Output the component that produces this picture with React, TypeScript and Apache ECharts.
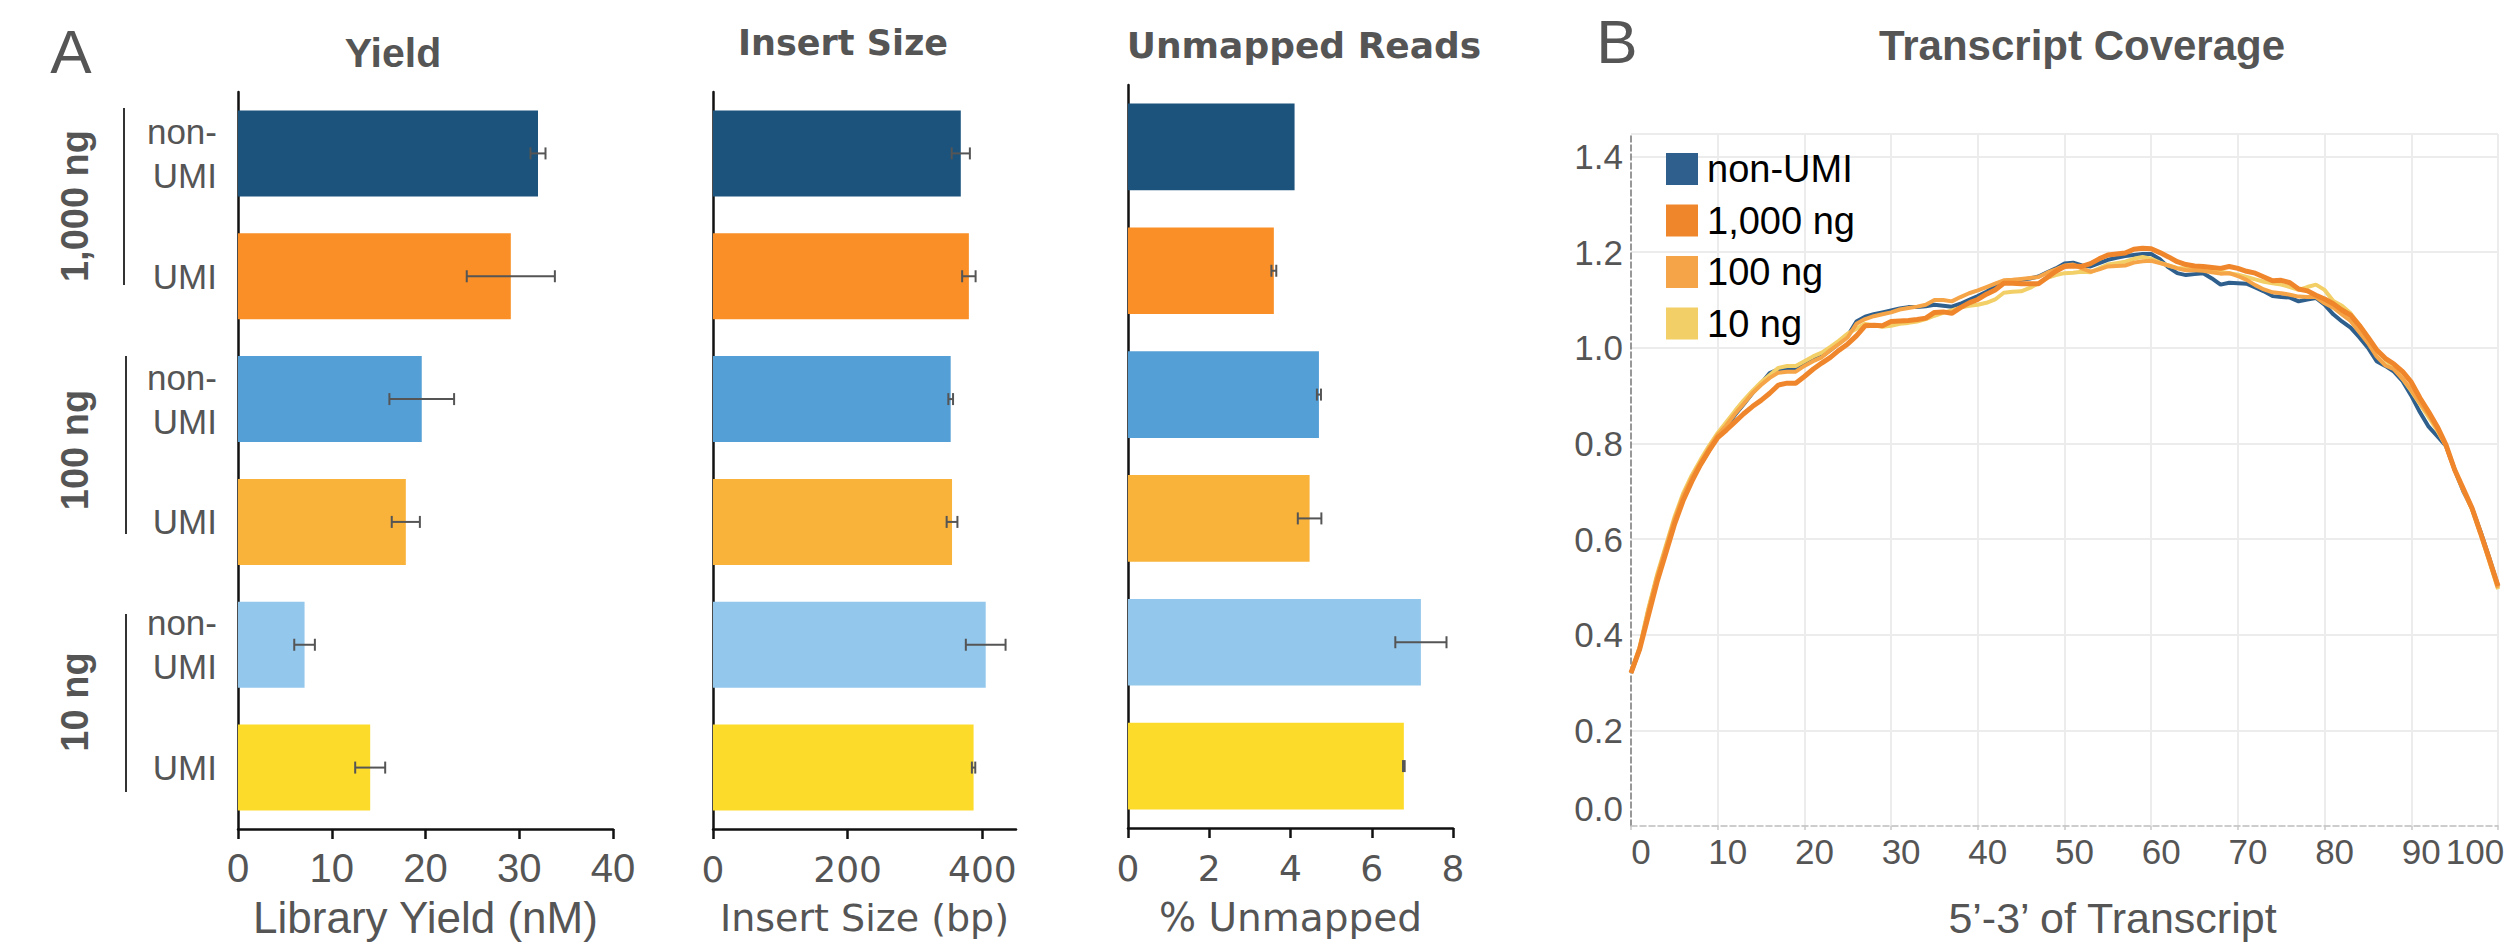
import React, { useEffect, useRef } from 'react';
import * as echarts from 'echarts';

// ---------- Panel A data ----------
const GROUPS = ['1,000 ng', '100 ng', '10 ng'];
const SAMPLE_IDS = ['1000-nonUMI', '1000-UMI', '100-nonUMI', '100-UMI', '10-nonUMI', '10-UMI'];
const SAMPLE_LABELS = ['non-\nUMI', 'UMI', 'non-\nUMI', 'UMI', 'non-\nUMI', 'UMI'];
const BAR_COLORS = ['#1B537D', '#F98F26', '#559FD7', '#F9B23A', '#93C7EC', '#FDDB2B'];

const YIELD = [32.0, 29.1, 19.6, 17.9, 7.1, 14.1];
const YIELD_ERR = [0.8, 4.7, 3.45, 1.5, 1.1, 1.6];
const INSERT = [368, 380, 353, 355, 405, 387];
const INSERT_ERR = [13.5, 10, 3.5, 8, 29.5, 2.5];
const UNMAPPED = [4.1, 3.59, 4.7, 4.47, 7.21, 6.79];
const UNMAPPED_ERR = [0, 0.06, 0.05, 0.29, 0.63, 0.02];

const YIELD_TICKS = [0, 10, 20, 30, 40];
const INSERT_TICKS = [0, 200, 400];
const UNMAPPED_TICKS = [0, 2, 4, 6, 8];

// ---------- Panel B data (coverage at each percentile 0..100) ----------
const COV_NAMES = ['non-UMI', '1,000 ng', '100 ng', '10 ng'];
const COV_COLORS = ['#2F5F8D', '#F0862B', '#F5A447', '#F3CF68'];
const COV_NON_UMI = [
  0.32, 0.37, 0.45, 0.52, 0.58, 0.64, 0.69, 0.725, 0.755, 0.785,
  0.815, 0.835, 0.86, 0.882, 0.905, 0.925, 0.947, 0.955, 0.957, 0.955,
  0.965, 0.975, 0.982, 0.995, 1.01, 1.025, 1.055, 1.065, 1.07, 1.074,
  1.078, 1.082, 1.085, 1.085, 1.087, 1.09, 1.088, 1.086, 1.092, 1.1,
  1.108, 1.117, 1.128, 1.138, 1.14, 1.142, 1.145, 1.149, 1.158, 1.166,
  1.176, 1.178, 1.172, 1.17, 1.177, 1.184, 1.188, 1.192, 1.194, 1.196,
  1.196, 1.185, 1.168, 1.156, 1.152, 1.154, 1.156, 1.145, 1.132, 1.136,
  1.135, 1.134, 1.126, 1.118, 1.108, 1.106, 1.105, 1.097, 1.101, 1.104,
  1.09, 1.07, 1.055, 1.042, 1.022, 1.0, 0.972, 0.962, 0.95, 0.93,
  0.9, 0.865, 0.835, 0.815, 0.795, 0.745, 0.7, 0.665, 0.615, 0.56,
  0.502,
];
const COV_1000 = [
  0.32, 0.37, 0.44, 0.51, 0.57, 0.63, 0.68, 0.72, 0.755, 0.785,
  0.812, 0.828, 0.845, 0.862, 0.877, 0.89, 0.905, 0.922, 0.926, 0.926,
  0.94, 0.955, 0.968, 0.98, 0.995, 1.008, 1.025, 1.046, 1.047, 1.046,
  1.055, 1.056, 1.057, 1.059, 1.062, 1.074, 1.075, 1.072, 1.084, 1.094,
  1.101, 1.112, 1.121, 1.135, 1.135, 1.134, 1.134, 1.134, 1.147, 1.16,
  1.17, 1.171, 1.17, 1.176, 1.186, 1.194, 1.196, 1.198, 1.206, 1.208,
  1.207, 1.199, 1.19, 1.18, 1.174, 1.171, 1.17, 1.168, 1.166, 1.17,
  1.166, 1.16, 1.156, 1.148, 1.14, 1.141, 1.136, 1.123, 1.119, 1.11,
  1.102, 1.092, 1.079, 1.068, 1.047, 1.022, 0.996, 0.978, 0.966, 0.95,
  0.928, 0.895, 0.866, 0.835, 0.797, 0.745, 0.705, 0.665, 0.612, 0.558,
  0.502,
];
const COV_100 = [
  0.32, 0.37, 0.45, 0.52, 0.58, 0.64, 0.69, 0.728, 0.76, 0.79,
  0.818, 0.838, 0.862, 0.883, 0.905, 0.922, 0.937, 0.948, 0.95, 0.95,
  0.962, 0.972, 0.98, 0.995, 1.008, 1.022, 1.05, 1.06, 1.066, 1.07,
  1.074, 1.08, 1.083, 1.086, 1.09, 1.1, 1.1, 1.097, 1.106, 1.114,
  1.12, 1.127, 1.134, 1.141, 1.142, 1.144, 1.146, 1.148, 1.157, 1.164,
  1.172, 1.174, 1.166, 1.159, 1.164, 1.17, 1.171, 1.172, 1.178, 1.181,
  1.182, 1.177, 1.172, 1.166, 1.162, 1.162, 1.161, 1.158, 1.155, 1.156,
  1.15, 1.142, 1.131, 1.122, 1.116, 1.114, 1.111, 1.107, 1.106, 1.106,
  1.093, 1.084, 1.07, 1.056, 1.033, 1.01, 0.982, 0.963, 0.955, 0.935,
  0.912, 0.885, 0.86, 0.83, 0.795, 0.745, 0.703, 0.663, 0.612, 0.556,
  0.498,
];
const COV_10 = [
  0.32, 0.375, 0.455, 0.525, 0.585, 0.645, 0.695, 0.733, 0.765, 0.795,
  0.822, 0.845, 0.868, 0.89, 0.91, 0.928, 0.943, 0.958, 0.962, 0.962,
  0.972, 0.982, 0.99, 1.002, 1.015, 1.03, 1.04, 1.05, 1.047, 1.044,
  1.046, 1.05, 1.052, 1.055, 1.06, 1.067, 1.073, 1.078, 1.084, 1.088,
  1.09, 1.094, 1.101, 1.115, 1.117, 1.118, 1.125, 1.135, 1.146, 1.152,
  1.156, 1.157, 1.159, 1.158, 1.166, 1.174, 1.177, 1.18, 1.186, 1.19,
  1.186, 1.178, 1.172, 1.167, 1.166, 1.165, 1.164, 1.161, 1.159, 1.156,
  1.153, 1.148, 1.143, 1.138, 1.135, 1.132, 1.127, 1.121, 1.127, 1.132,
  1.121, 1.098, 1.088, 1.072, 1.048, 1.022, 0.995, 0.975, 0.958, 0.935,
  0.91, 0.882, 0.855, 0.827, 0.795, 0.745, 0.702, 0.662, 0.61, 0.553,
  0.495,
];
const COV_Y_TICKS = [0, 0.2, 0.4, 0.6, 0.8, 1.0, 1.2, 1.4];

const GREY = '#555555';
const SANS = "'Liberation Sans', Arial, sans-serif";
const WIDE = "'DejaVu Sans', sans-serif";

function errorBarRender(params: any, api: any) {
  const v = api.value(0);
  const c = api.value(1);
  const e = api.value(2);
  if (!e) return { type: 'group', children: [] };
  const lo = api.coord([v - e, c]);
  const hi = api.coord([v + e, c]);
  const h = 6;
  const style = { stroke: '#555', lineWidth: 2 };
  return {
    type: 'group',
    children: [
      { type: 'line', shape: { x1: lo[0], y1: lo[1], x2: hi[0], y2: hi[1] }, style },
      { type: 'line', shape: { x1: lo[0], y1: lo[1] - h, x2: lo[0], y2: lo[1] + h }, style },
      { type: 'line', shape: { x1: hi[0], y1: hi[1] - h, x2: hi[0], y2: hi[1] + h }, style },
    ],
  };
}

function barSeries(name: string, values: number[], idx: number) {
  return {
    name,
    type: 'bar',
    xAxisIndex: idx,
    yAxisIndex: idx,
    barCategoryGap: '30%',
    data: values.map((v, i) => ({ value: v, itemStyle: { color: BAR_COLORS[i] } })),
    z: 2,
  };
}

function errSeries(name: string, values: number[], errs: number[], idx: number) {
  return {
    name,
    type: 'custom',
    xAxisIndex: idx,
    yAxisIndex: idx,
    renderItem: errorBarRender,
    encode: { x: 0, y: 1 },
    data: values.map((v, i) => [v, i, errs[i]]),
    z: 5,
  };
}

function catAxis(idx: number, showLabels: boolean, insideTicks: boolean) {
  return {
    type: 'category',
    gridIndex: idx,
    data: SAMPLE_IDS,
    inverse: true,
    axisLine: { show: true, lineStyle: { color: '#111', width: 2.5 } },
    axisTick: insideTicks
      ? { show: true, inside: true, alignWithLabel: true, length: 4, lineStyle: { color: '#c8c8c8', width: 2 } }
      : { show: false },
    axisLabel: showLabels
      ? {
          show: true,
          formatter: (_v: string, i: number) => SAMPLE_LABELS[i],
          fontFamily: SANS,
          fontSize: 35,
          lineHeight: 44,
          color: GREY,
          margin: 21,
          align: 'right',
          padding: [12, 0, 0, 0],
        }
      : { show: false },
    splitLine: { show: false },
  };
}

function valAxis(idx: number, min: number, max: number, interval: number, ticks: number[], name: string, font: string, labelSize: number, nameSize: number, labelMargin: number, nameGap: number) {
  return {
    type: 'value',
    gridIndex: idx,
    min,
    max,
    interval,
    name,
    nameLocation: 'middle',
    nameGap,
    nameTextStyle: { fontFamily: font, fontSize: nameSize, color: GREY },
    axisLine: { show: true, lineStyle: { color: '#111', width: 2.5 } },
    axisTick: { show: true, length: 10, customValues: ticks, lineStyle: { color: '#111', width: 2.5 } },
    axisLabel: { show: true, customValues: ticks, fontFamily: font, fontSize: labelSize, color: GREY, margin: labelMargin },
    splitLine: { show: false },
  };
}

export default function App() {
  const ref = useRef<HTMLDivElement>(null);

  useEffect(() => {
    if (!ref.current) return;
    const chart = echarts.init(ref.current, undefined, { renderer: 'svg' });

    const covSeries = [COV_NON_UMI, COV_1000, COV_100, COV_10].map((arr, k) => ({
      name: COV_NAMES[k],
      type: 'line',
      xAxisIndex: 3,
      yAxisIndex: 3,
      showSymbol: false,
      symbol: 'none',
      data: arr.map((y, i) => [i, y]),
      lineStyle: { color: COV_COLORS[k], width: k === 1 ? 5 : 4 },
      itemStyle: { color: COV_COLORS[k] },
      z: [3, 6, 5, 4][k],
    }));

    const groupCenters = [206, 450, 702];
    const groupLines = [
      [124, 108, 285],
      [126, 356, 534],
      [126, 614, 792],
    ];

    const option: any = {
      animation: false,
      backgroundColor: '#ffffff',
      grid: [
        { left: 238, top: 92, width: 375, height: 737, containLabel: false, outerBoundsMode: 'none' },
        { left: 713, top: 92, width: 303, height: 737, containLabel: false, outerBoundsMode: 'none' },
        { left: 1128, top: 85, width: 325, height: 743, containLabel: false, outerBoundsMode: 'none' },
        { left: 1631, top: 134, width: 867, height: 692, containLabel: false, outerBoundsMode: 'none' },
      ],
      xAxis: [
        valAxis(0, 0, 40, 10, YIELD_TICKS, 'Library Yield (nM)', SANS, 40, 44, 19, 66),
        valAxis(1, 0, 450, 200, INSERT_TICKS, 'Insert Size (bp)', WIDE, 36, 38, 22, 70),
        valAxis(2, 0, 8, 2, UNMAPPED_TICKS, '% Unmapped', WIDE, 36, 39, 22, 70),
        {
          type: 'value',
          gridIndex: 3,
          min: 0,
          max: 100,
          interval: 10,
          name: '5\u2019-3\u2019 of Transcript',
          nameLocation: 'middle',
          nameGap: 70,
          nameTextStyle: { fontFamily: SANS, fontSize: 43, color: GREY, padding: [0, 0, 0, 96] },
          axisLine: { show: true, lineStyle: { color: '#bdbdbd', width: 1.5, type: 'dashed' } },
          axisTick: { show: true, length: 4, lineStyle: { color: '#c8c8c8', width: 1.5 } },
          axisLabel: {
            fontFamily: SANS,
            fontSize: 35,
            color: GREY,
            margin: 8,
            padding: [0, 0, 0, 20],
            formatter: (v: number) => (v === 100 ? '{r|100}' : String(v)),
            rich: { r: { fontFamily: SANS, fontSize: 35, color: GREY, padding: [0, 66, 0, 0] } },
          },
          splitLine: { show: true, showMinLine: false, lineStyle: { color: '#ececec', width: 2 } },
        },
      ],
      yAxis: [
        catAxis(0, true, false),
        catAxis(1, false, true),
        catAxis(2, false, false),
        {
          type: 'value',
          gridIndex: 3,
          min: 0,
          max: 1.447,
          interval: 0.2,
          axisLine: { show: true, lineStyle: { color: '#777', width: 1.5, type: 'dashed' } },
          axisTick: { show: false },
          axisLabel: {
            customValues: COV_Y_TICKS,
            fontFamily: SANS,
            fontSize: 35,
            color: GREY,
            margin: 8,
            formatter: (v: number) => (v === 0 ? '0.0\n' : v.toFixed(1)),
          },
          splitLine: { show: true, showMinLine: false, lineStyle: { color: '#ececec', width: 2 } },
        },
      ],
      legend: {
        data: COV_NAMES,
        orient: 'vertical',
        left: 1661,
        top: 145,
        itemWidth: 32,
        itemHeight: 32,
        itemGap: 13.5,
        icon: 'rect',
        selectedMode: false,
        textStyle: { fontFamily: SANS, fontSize: 38, color: '#000', lineHeight: 32, padding: [0, 0, 0, 4] },
      },
      series: [
        barSeries('Yield', YIELD, 0),
        errSeries('Yield error', YIELD, YIELD_ERR, 0),
        barSeries('Insert Size', INSERT, 1),
        errSeries('Insert error', INSERT, INSERT_ERR, 1),
        barSeries('Unmapped Reads', UNMAPPED, 2),
        errSeries('Unmapped error', UNMAPPED, UNMAPPED_ERR, 2),
        ...covSeries,
      ],
      graphic: [
        { type: 'text', x: 71, y: 51, style: { text: 'A', fontFamily: SANS, fontSize: 62, fill: GREY, textAlign: 'center', textVerticalAlign: 'middle' } },
        { type: 'text', x: 393, y: 53, style: { text: 'Yield', fontFamily: SANS, fontWeight: 'bold', fontSize: 41, fill: GREY, textAlign: 'center', textVerticalAlign: 'middle' } },
        { type: 'text', x: 843, y: 43, style: { text: 'Insert Size', fontFamily: WIDE, fontWeight: 'bold', fontSize: 35, fill: GREY, textAlign: 'center', textVerticalAlign: 'middle' } },
        { type: 'text', x: 1304, y: 45, style: { text: 'Unmapped Reads', fontFamily: WIDE, fontWeight: 'bold', fontSize: 36, fill: GREY, textAlign: 'center', textVerticalAlign: 'middle' } },
        { type: 'text', x: 1617, y: 41, style: { text: 'B', fontFamily: SANS, fontSize: 62, fill: GREY, textAlign: 'center', textVerticalAlign: 'middle' } },
        { type: 'text', x: 2082, y: 45, style: { text: 'Transcript Coverage', fontFamily: SANS, fontWeight: 'bold', fontSize: 42, fill: GREY, textAlign: 'center', textVerticalAlign: 'middle' } },
        ...GROUPS.map((g, i) => ({
          type: 'text',
          x: 75,
          y: groupCenters[i],
          rotation: Math.PI / 2,
          style: { text: g, fontFamily: SANS, fontWeight: 'bold', fontSize: 38, fill: GREY, textAlign: 'center', textVerticalAlign: 'middle' },
        })),
        ...groupLines.map((l) => ({
          type: 'line',
          shape: { x1: l[0], y1: l[1], x2: l[0], y2: l[2] },
          style: { stroke: '#333', lineWidth: 2 },
        })),
      ],
    };

    chart.setOption(option);
    return () => chart.dispose();
  }, []);

  return (
    <div
      ref={ref}
      style={{ position: 'absolute', left: 0, top: 0, width: 2507, height: 949, background: '#fff' }}
    />
  );
}
